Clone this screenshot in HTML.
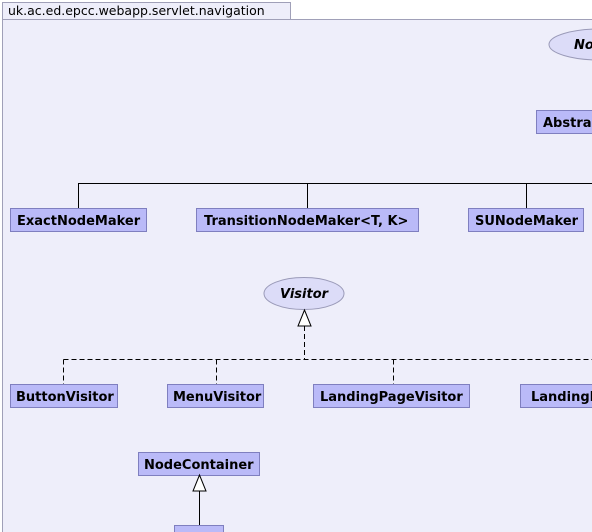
<!DOCTYPE html>
<html><head><meta charset="utf-8"><style>
body{margin:0;width:592px;height:532px;overflow:hidden;background:#fff}
svg{display:block}
text{font-family:"DejaVu Sans","Liberation Sans",sans-serif;font-size:13px;font-weight:bold;fill:#000}
.b{fill:#babaf8;stroke:#7f7fbf;stroke-width:1}
.e{fill:#dcdcf8;stroke:#9a9ab8;stroke-width:1}
</style></head><body>
<svg width="592" height="532" viewBox="0 0 592 532">
<rect x="2.5" y="2.5" width="288" height="17" fill="#eeeefa" stroke="#a0a0b8"/>
<rect x="2.5" y="19.5" width="600" height="520" fill="#eeeefa" stroke="#a0a0b8"/>
<text x="8" y="15" style="font-weight:normal;font-size:12.5px">uk.ac.ed.epcc.webapp.servlet.navigation</text>

<ellipse cx="600" cy="44.5" rx="51" ry="15.5" class="e"/>
<text x="574" y="49" style="font-style:italic">Nod</text>
<rect x="536.5" y="110.5" width="70" height="23" class="b"/>
<text x="543" y="127">AbstractNodeMaker</text>

<path d="M78.5 208V183.5H600M307.5 183.5V208M526.5 183.5V208" fill="none" stroke="#000"/>
<rect x="10.5" y="208.5" width="136" height="23" class="b"/><text x="17" y="225">ExactNodeMaker</text>
<rect x="196.5" y="208.5" width="222" height="23" class="b"/><text x="204" y="225">TransitionNodeMaker&lt;T, K&gt;</text>
<rect x="468.5" y="208.5" width="115" height="23" class="b"/><text x="475" y="225">SUNodeMaker</text>

<ellipse cx="304" cy="293.5" rx="40" ry="16" class="e"/>
<text x="280" y="298" style="font-style:italic">Visitor</text>
<path d="M304.5 310L298 326H311Z" fill="#fff" stroke="#000"/>
<path d="M304.5 326V359.5M63.5 359.5H600M63.5 359.5V384M216.5 359.5V384M393.5 359.5V384" fill="none" stroke="#000" stroke-dasharray="5,3"/>
<rect x="10.5" y="384.5" width="107" height="23" class="b"/><text x="16" y="401">ButtonVisitor</text>
<rect x="167.5" y="384.5" width="96" height="23" class="b"/><text x="173" y="401">MenuVisitor</text>
<rect x="313.5" y="384.5" width="156" height="23" class="b"/><text x="320" y="401">LandingPageVisitor</text>
<rect x="520.5" y="384.5" width="100" height="23" class="b"/><text x="531" y="401">LandingPage</text>

<rect x="138.5" y="452.5" width="121" height="23" class="b"/><text x="144" y="469">NodeContainer</text>
<path d="M199.5 475L193 491H206Z" fill="#fff" stroke="#000"/>
<path d="M199.5 491V525" stroke="#000"/>
<rect x="174.5" y="525.5" width="49" height="23" class="b"/>
</svg>
</body></html>
